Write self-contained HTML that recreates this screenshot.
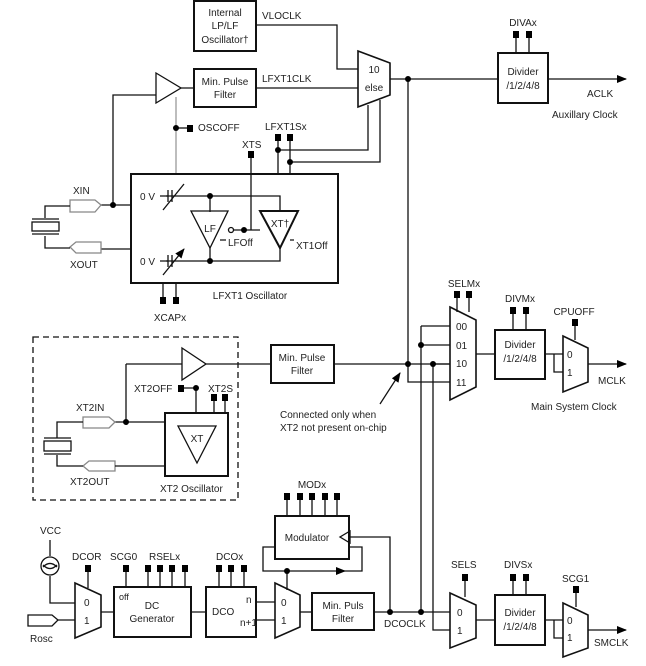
<!DOCTYPE html>
<html><head><style>body{margin:0;background:#fff}svg{display:block}text{font-family:"Liberation Sans",sans-serif;font-size:10px;fill:#222}</style></head><body>
<svg width="646" height="666" viewBox="0 0 646 666" xmlns="http://www.w3.org/2000/svg">
<defs><marker id="ar" markerWidth="10" markerHeight="8" refX="9" refY="4" orient="auto" markerUnits="userSpaceOnUse"><path d="M0,0 L10,4 L0,8 Z" fill="#000"/></marker></defs>
<g stroke="#111" stroke-width="1.3" fill="none">
<!-- top -->
<rect x="194" y="1" width="62" height="50" stroke-width="2"/>
<path d="M256,25 H337 V69 H358"/>
<polygon points="358,51 390,63 390,95 358,107" stroke-width="1.6"/>
<polygon points="156,73 181,88 156,103"/>
<rect x="194" y="69" width="62" height="38" stroke-width="2"/>
<path d="M181,88 H194 M256,88 H358"/>
<path d="M390,79 H498 M548,79 H626" marker-end="url(#ar)"/>
<rect x="498" y="53" width="50" height="50" stroke-width="2"/>
<path d="M516,35 V53 M529,35 V53"/>
<path d="M408,79 V382 H450"/>
<path d="M176,128 H190"/>
<path d="M176,97 V175" stroke="#999"/>
<path d="M278,138 V175 M290,138 V175 M278,150 H368 V105 M290,162 H380 V100"/>
<path d="M251,155 V230"/>
<rect x="131" y="174" width="207" height="109" stroke-width="2"/>
<path d="M166,196 H280 V212 M166,261 H280 V248"/>
<path d="M210,196 V212 M210,261 V248"/>
<path d="M160,196 H168 M160,261 H168"/>
<path d="M168,190 V202 M172,190 V202 M168,255 V267 M172,255 V267"/>
<path d="M163,210 L184,184 M163,275 L184,249" marker-end="url(#ar)"/>
<polygon points="191,211 228,211 210,248"/>
<polygon points="260,211 298,211 280,248" stroke-width="2"/>
<circle cx="231" cy="230" r="2.5" fill="#fff"/>
<path d="M234,230 H260 M220,240 H226 M290,240 H294"/>
<path d="M101,205 H131 M113,205 V95 H156 M101,249 H131"/>
<polygon points="70,200 95,200 101,205 95,212 70,212" stroke="#888"/>
<polygon points="101,242 76,242 70,247 76,253 101,253" stroke="#888"/>
<path d="M70,206 H45 V218 M70,248 H45 V236"/>
<rect x="32" y="222" width="27" height="9"/>
<path d="M32,219 H59 M32,234 H59"/>
<path d="M163,300 V283 M176,300 V283"/>
<!-- XT2 -->
<rect x="33" y="337" width="205" height="163" stroke-dasharray="6,4"/>
<polygon points="182,348 206,364 182,380"/>
<path d="M206,364 H271 M334,364 H450"/>
<rect x="271" y="345" width="63" height="38" stroke-width="2"/>
<path d="M126,364 H182 M126,364 V422 M115,422 H165 M196,388 V413 M181,388 H196 M214,398 V413 M225,398 V413"/>
<rect x="165" y="413" width="63" height="63" stroke-width="2"/>
<polygon points="178,426 216,426 197,463"/>
<polygon points="83,417 109,417 115,422 109,428 83,428" stroke="#888"/>
<polygon points="115,461 89,461 83,466 89,471 115,471" stroke="#888"/>
<path d="M83,422 H57 V438 M83,466 H57 V455 M115,466 H165"/>
<rect x="44" y="441" width="27" height="10"/>
<path d="M44,438 H71 M44,454 H71"/>
<path d="M380,404 L400,373" marker-end="url(#ar)"/>
<!-- MCLK -->
<polygon points="450,307 476,320 476,387 450,400" stroke-width="1.6"/>
<path d="M421,326 H450 M421,345 H450 M433,364 H450 M421,326 V612 M433,364 V630 H450"/>
<path d="M457,295 V312 M469,295 V312"/>
<rect x="495" y="330" width="50" height="49" stroke-width="2"/>
<path d="M513,311 V330 M526,311 V330 M476,354 H495 M545,354 H563 M554,354 V372 H563 M575,323 V340"/>
<polygon points="563,336 588,348 588,382 563,392" stroke-width="1.6"/>
<path d="M588,364 H626" marker-end="url(#ar)"/>
<!-- bottom -->
<path d="M287,497 V516 M300,497 V516 M312,497 V516 M325,497 V516 M337,497 V516"/>
<rect x="275" y="516" width="74" height="43" stroke-width="2"/>
<polygon points="350,531 340,537 350,543"/>
<path d="M349,537 H390 V612"/>
<path d="M275,547 H263 V571 H345" marker-end="url(#ar)"/>
<path d="M345,571 H362 V547 H349 M287,571 V590"/>
<path d="M50,540 V556 M50,576 V603 H75"/>
<circle cx="50" cy="566" r="9"/>
<path d="M43,567 Q50,560 57,567 M43,565 Q50,572 57,565"/>
<polygon points="75,583 101,595 101,627 75,638" stroke-width="1.6"/>
<polygon points="28,615 52,615 58,620 52,626 28,626"/>
<path d="M58,620 H75 M88,568 V588 M101,612 H114"/>
<rect x="114" y="587" width="77" height="50" stroke-width="2"/>
<path d="M126,568 V587 M148,568 V587 M160,568 V587 M172,568 V587 M185,568 V587 M191,612 H206"/>
<rect x="206" y="587" width="50" height="50" stroke-width="2"/>
<path d="M219,568 V587 M231,568 V587 M244,568 V587 M256,602 H275 M256,620 H275"/>
<polygon points="275,583 300,595 300,627 275,638" stroke-width="1.6"/>
<path d="M300,612 H312"/>
<rect x="312" y="593" width="62" height="37" stroke-width="2"/>
<path d="M374,612 H450"/>
<polygon points="450,593 476,605 476,638 450,648" stroke-width="1.6"/>
<path d="M465,578 V597 M476,620 H495"/>
<rect x="495" y="595" width="50" height="50" stroke-width="2"/>
<path d="M513,578 V595 M526,578 V595 M545,620 H563 M554,620 V638 H563 M576,590 V607"/>
<polygon points="563,603 588,615 588,648 563,657" stroke-width="1.6"/>
<path d="M588,630 H626" marker-end="url(#ar)"/>
</g>
<g fill="#000">
<circle cx="408" cy="79" r="3"/><circle cx="176" cy="128" r="3"/><circle cx="278" cy="150" r="3"/><circle cx="290" cy="162" r="3"/>
<circle cx="210" cy="196" r="3"/><circle cx="210" cy="261" r="3"/><circle cx="244" cy="230" r="3"/><circle cx="113" cy="205" r="3"/>
<circle cx="408" cy="364" r="3"/><circle cx="433" cy="364" r="3"/><circle cx="421" cy="345" r="3"/><circle cx="126" cy="422" r="3"/><circle cx="196" cy="388" r="3"/>
<circle cx="287" cy="571" r="3"/><circle cx="390" cy="612" r="3"/><circle cx="421" cy="612" r="3"/>
<rect x="513" y="31" width="6" height="7"/><rect x="526" y="31" width="6" height="7"/>
<rect x="187" y="125" width="6" height="7"/><rect x="275" y="134" width="6" height="7"/><rect x="287" y="134" width="6" height="7"/><rect x="248" y="151" width="6" height="7"/>
<rect x="160" y="297" width="6" height="7"/><rect x="173" y="297" width="6" height="7"/>
<rect x="454" y="291" width="6" height="7"/><rect x="466" y="291" width="6" height="7"/><rect x="510" y="307" width="6" height="7"/><rect x="523" y="307" width="6" height="7"/><rect x="572" y="319" width="6" height="7"/>
<rect x="178" y="385" width="6" height="7"/><rect x="211" y="394" width="6" height="7"/><rect x="222" y="394" width="6" height="7"/>
<rect x="284" y="493" width="6" height="7"/><rect x="297" y="493" width="6" height="7"/><rect x="309" y="493" width="6" height="7"/><rect x="322" y="493" width="6" height="7"/><rect x="334" y="493" width="6" height="7"/>
<rect x="85" y="565" width="6" height="7"/><rect x="123" y="565" width="6" height="7"/><rect x="145" y="565" width="6" height="7"/><rect x="157" y="565" width="6" height="7"/><rect x="169" y="565" width="6" height="7"/><rect x="182" y="565" width="6" height="7"/>
<rect x="216" y="565" width="6" height="7"/><rect x="228" y="565" width="6" height="7"/><rect x="241" y="565" width="6" height="7"/>
<rect x="462" y="574" width="6" height="7"/><rect x="510" y="574" width="6" height="7"/><rect x="523" y="574" width="6" height="7"/><rect x="573" y="586" width="6" height="7"/>
</g>
<g text-anchor="middle">
<text x="225" y="16">Internal</text><text x="225" y="29">LP/LF</text><text x="225" y="43">Oscillator†</text>
<text x="225" y="85">Min. Pulse</text><text x="225" y="98">Filter</text>
<text x="374" y="73">10</text><text x="374" y="91">else</text>
<text x="523" y="75">Divider</text><text x="523" y="89">/1/2/4/8</text>
<text x="523" y="26">DIVAx</text>
<text x="210" y="232">LF</text><text x="280" y="227">XT†</text>
<text x="250" y="299">LFXT1 Oscillator</text><text x="170" y="321">XCAPx</text>
<text x="302" y="361">Min. Pulse</text><text x="302" y="374">Filter</text>
<text x="197" y="442">XT</text>
<text x="520" y="348">Divider</text><text x="520" y="362">/1/2/4/8</text>
<text x="520" y="302">DIVMx</text><text x="464" y="287">SELMx</text><text x="574" y="315">CPUOFF</text>
<text x="312" y="488">MODx</text><text x="307" y="541">Modulator</text>
<text x="152" y="609">DC</text><text x="152" y="622">Generator</text>
<text x="343" y="609">Min. Puls</text><text x="343" y="622">Filter</text>
<text x="520" y="616">Divider</text><text x="520" y="630">/1/2/4/8</text>
</g>
<text x="262" y="19">VLOCLK</text><text x="262" y="82">LFXT1CLK</text>
<text x="587" y="97">ACLK</text><text x="552" y="118">Auxillary Clock</text>
<text x="198" y="131">OSCOFF</text><text x="265" y="130">LFXT1Sx</text><text x="242" y="148">XTS</text>
<text x="140" y="200">0 V</text><text x="140" y="265">0 V</text>
<text x="228" y="246">LFOff</text><text x="296" y="249">XT1Off</text>
<text x="73" y="194">XIN</text><text x="70" y="268">XOUT</text>
<text x="456" y="330">00</text><text x="456" y="349">01</text><text x="456" y="367">10</text><text x="456" y="386">11</text>
<text x="567" y="358">0</text><text x="567" y="376">1</text>
<text x="598" y="384">MCLK</text><text x="531" y="410">Main System Clock</text>
<text x="134" y="392">XT2OFF</text><text x="208" y="392">XT2S</text>
<text x="76" y="411">XT2IN</text><text x="70" y="485">XT2OUT</text><text x="160" y="492">XT2 Oscillator</text>
<text x="280" y="418">Connected only when</text><text x="280" y="431">XT2 not present on-chip</text>
<text x="40" y="534">VCC</text><text x="72" y="560">DCOR</text><text x="110" y="560">SCG0</text><text x="149" y="560">RSELx</text><text x="216" y="560">DCOx</text>
<text x="84" y="606">0</text><text x="84" y="624">1</text><text x="30" y="642">Rosc</text>
<text x="119" y="600" style="font-size:9px">off</text>
<text x="212" y="615">DCO</text><text x="246" y="603">n</text><text x="240" y="626">n+1</text>
<text x="281" y="606">0</text><text x="281" y="624">1</text>
<text x="384" y="627">DCOCLK</text>
<text x="451" y="568">SELS</text><text x="504" y="568">DIVSx</text><text x="562" y="582">SCG1</text>
<text x="457" y="616">0</text><text x="457" y="634">1</text>
<text x="567" y="624">0</text><text x="567" y="641">1</text>
<text x="594" y="646">SMCLK</text>
</svg>
</body></html>
